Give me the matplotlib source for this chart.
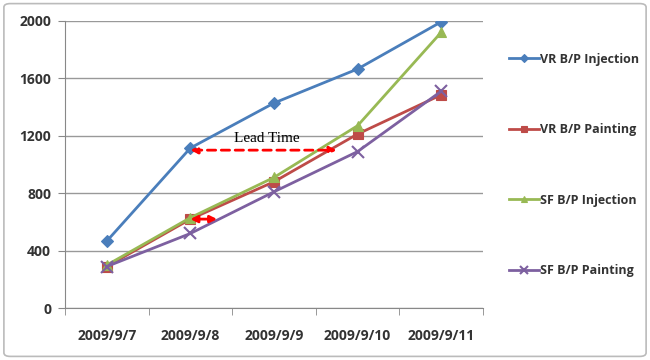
import matplotlib
matplotlib.use("Agg")
import matplotlib.pyplot as plt
from matplotlib.patches import FancyBboxPatch

categories = ["2009/9/7", "2009/9/8", "2009/9/9", "2009/9/10", "2009/9/11"]
vr_injection = [467, 1115, 1428, 1665, 1993]
vr_painting = [290, 620, 880, 1212, 1485]
sf_injection = [300, 630, 910, 1270, 1920]
sf_painting = [290, 520, 810, 1090, 1510]
yticks = [0, 400, 800, 1200, 1600, 2000]

series = [
    ("VR B/P Injection", vr_injection, "#4A7EBB", "D", 6),
    ("VR B/P Painting", vr_painting, "#BE4B48", "s", 7),
    ("SF B/P Injection", sf_injection, "#98B954", "^", 7),
    ("SF B/P Painting", sf_painting, "#7D60A0", "x", 8),
]

plt.rcParams['font.family'] = ['Open Sans', 'DejaVu Sans']
fig = plt.figure(figsize=(6.5, 3.6), dpi=100)
fig.patches.append(FancyBboxPatch((0.006, 0.01), 0.988, 0.98, boxstyle="round,pad=0,rounding_size=0.01",
                                  transform=fig.transFigure, facecolor="none", edgecolor="#BBBBBB", lw=1.2))
ax = fig.add_axes([0.1, 0.144, 0.643, 0.798])
x = list(range(len(categories)))
for name, vals, col, mk, ms in series:
    ax.plot(x, vals, color=col, marker=mk, markersize=ms, lw=2, label=name,
            markeredgewidth=1.5 if mk == "x" else 0.8)

ax.set_xlim(-0.5, len(categories) - 0.5)
ax.set_ylim(0, 2000)
ax.set_yticks(yticks)
ax.set_xticks(x)
ax.set_xticklabels(categories)
ax.set_xticks([i - 0.5 for i in range(len(categories) + 1)], minor=True)
ax.tick_params(axis="x", which="major", length=0, pad=15)
ax.tick_params(axis="x", which="minor", length=5, color="#888888")
ax.tick_params(axis="y", length=5, color="#888888", pad=5)
for lab in ax.get_xticklabels() + ax.get_yticklabels():
    lab.set_fontsize(10)
    lab.set_fontweight("bold")
    lab.set_color("#333333")
ax.grid(axis="y", color="#999999", lw=1)
ax.set_axisbelow(True)
for s in ["top", "right"]:
    ax.spines[s].set_visible(False)
for s in ["left", "bottom"]:
    ax.spines[s].set_color("#888888")

# Lead time annotations
ax.annotate("", xy=(2.75, 1100), xytext=(1.0, 1100),
            arrowprops=dict(arrowstyle="<|-|>", color="red", lw=2, linestyle=(0, (3, 2)),
                            mutation_scale=10, shrinkA=0, shrinkB=0))
ax.text(1.92, 1180, "Lead Time", family="Liberation Serif", fontsize=11, ha="center", va="center")
ax.annotate("", xy=(1.32, 620), xytext=(1.0, 620),
            arrowprops=dict(arrowstyle="<|-|>", color="red", lw=2,
                            mutation_scale=10, shrinkA=0, shrinkB=0))

leg = fig.legend(loc="upper left", bbox_to_anchor=(0.765, 0.885), frameon=False,
                 labelspacing=4.6, handlelength=2.4, handletextpad=0.1, markerscale=0.7,
                 prop=dict(size=9, weight="bold"))
for t in leg.get_texts():
    t.set_color("#333333")

fig.savefig("out.png", dpi=100)
